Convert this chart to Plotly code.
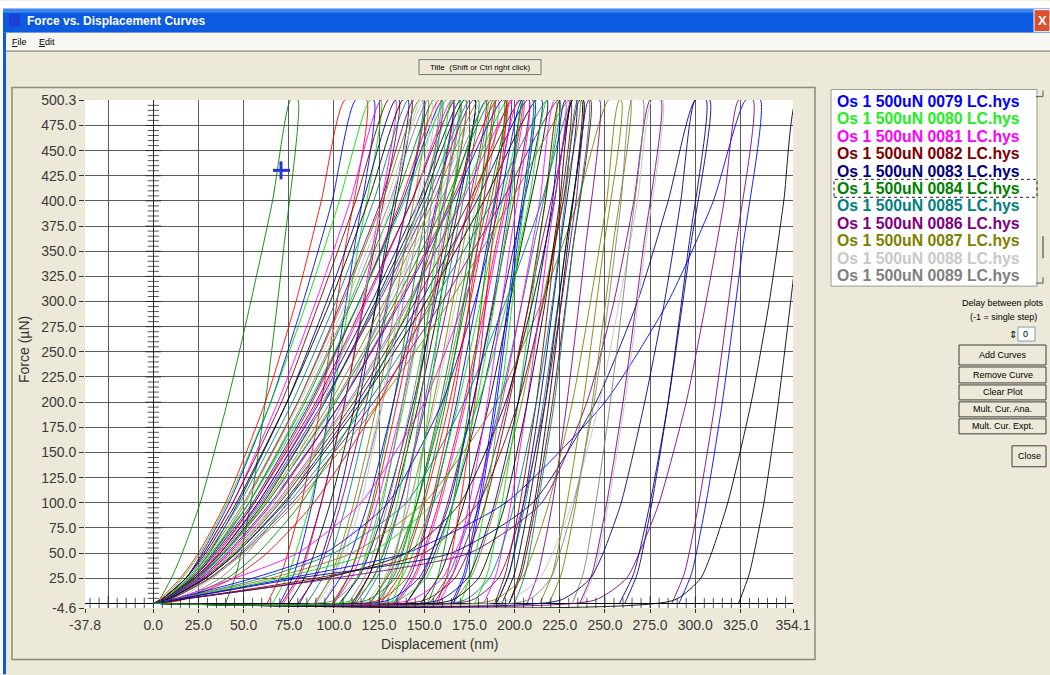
import plotly.graph_objects as go

# ---------------- data ----------------
LOAD_F = [0, 3, 25, 50, 100, 200, 300, 400, 500.3]
UNLOAD_F = [500.3, 350, 200, 100, 30, 0]

LOAD_X = [
    [0, 3, 10, 16, 26, 41, 54, 66, 76],
    [0, 3, 15, 25, 40, 62, 79, 93, 106],
    [0, 4, 18, 27, 42, 65, 83, 99, 112],
    [0, 4, 16, 26, 41, 65, 85, 103, 120],
    [0, 4, 18, 28, 44, 69, 90, 109, 126],
    [0, 4, 18, 28, 44, 71, 92, 112, 130],
    [0, 5, 20, 31, 47, 74, 96, 116, 134],
    [0, 4, 18, 29, 46, 74, 98, 119, 138],
    [0, 5, 19, 30, 48, 77, 101, 122, 141],
    [0, 5, 21, 33, 51, 80, 104, 126, 144],
    [0, 5, 20, 31, 50, 80, 105, 127, 147],
    [0, 5, 20, 32, 51, 81, 107, 129, 150],
    [0, 5, 22, 34, 53, 83, 109, 131, 152],
    [0, 5, 21, 33, 53, 84, 110, 134, 155],
    [0, 6, 23, 36, 56, 88, 114, 137, 158],
    [0, 5, 22, 34, 55, 87, 114, 138, 160],
    [0, 5, 20, 32, 53, 86, 114, 139, 162],
    [0, 6, 24, 37, 58, 91, 118, 143, 165],
    [0, 5, 22, 35, 56, 90, 117, 143, 167],
    [0, 6, 23, 37, 58, 92, 121, 147, 170],
    [0, 6, 25, 39, 61, 95, 123, 149, 172],
    [0, 6, 24, 38, 60, 95, 124, 151, 175],
    [0, 6, 23, 37, 59, 94, 125, 153, 177],
    [0, 6, 24, 39, 62, 98, 128, 155, 180],
    [0, 7, 27, 42, 66, 101, 130, 157, 182],
    [0, 6, 25, 40, 63, 100, 132, 159, 185],
    [0, 6, 24, 39, 63, 101, 134, 162, 187],
    [0, 7, 27, 42, 66, 104, 136, 165, 190],
    [0, 6, 26, 41, 65, 104, 137, 166, 193],
    [0, 7, 28, 44, 69, 109, 142, 170, 196],
    [0, 7, 27, 43, 68, 108, 141, 171, 199],
    [0, 7, 28, 45, 70, 111, 145, 175, 203],
    [0, 7, 29, 46, 72, 113, 148, 179, 207],
    [0, 7, 29, 46, 73, 115, 151, 183, 212],
    [0, 8, 31, 48, 75, 119, 155, 188, 218],
    [0, 8, 31, 49, 77, 122, 160, 193, 224],
    [0, 8, 32, 50, 79, 125, 164, 198, 230],
    [0, 11, 33, 47, 66, 94, 115, 132, 148],
    [0, 13, 37, 52, 74, 105, 129, 148, 166],
    [0, 14, 41, 58, 82, 116, 143, 164, 184],
    [0, 15, 44, 63, 89, 125, 153, 177, 198],
    [0, 8, 55, 95, 130, 160, 178, 192, 204],
    [0, 10, 70, 120, 155, 180, 196, 208, 218],
    [0, 9, 45, 80, 115, 150, 172, 189, 202],
    [0, 12, 90, 150, 180, 202, 216, 227, 236],
    [0, 10, 80, 165, 210, 245, 268, 285, 300],
    [0, 12, 95, 140, 170, 195, 210, 222, 232],
    [0, 9, 60, 100, 140, 172, 195, 215, 232],
    [0, 11, 100, 175, 215, 240, 255, 266, 275],
    [0, 9, 65, 110, 150, 190, 215, 235, 252],
    [0, 10, 75, 140, 195, 250, 285, 310, 328],
    [0, 100, 113, 119, 127, 138, 147, 154, 160],
    [0, 118, 134, 140, 149, 162, 172, 181, 188],
    [0, 125, 140, 146, 154, 166, 175, 183, 190],
    [0, 130, 147, 154, 164, 177, 188, 197, 205],
    [0, 135, 151, 157, 166, 179, 189, 198, 205],
    [0, 142, 160, 167, 178, 193, 204, 214, 222],
    [0, 150, 167, 174, 184, 197, 208, 217, 225],
    [0, 158, 174, 180, 189, 202, 212, 221, 228],
    [0, 165, 180, 186, 195, 207, 217, 225, 232],
    [0, 172, 186, 192, 200, 212, 221, 228, 235],
    [0, 176, 191, 197, 205, 217, 226, 234, 241],
    [0, 188, 204, 210, 219, 232, 242, 251, 258],
    [0, 196, 214, 221, 232, 247, 258, 268, 276],
    [0, 207, 220, 225, 233, 244, 252, 259, 265],
    [0, 225, 242, 249, 259, 272, 283, 292, 300],
    [0, 244, 262, 269, 280, 295, 306, 316, 324],
    [0, 288, 303, 309, 318, 331, 341, 349, 356],
    [0, 110, 122, 127, 135, 145, 153, 159, 165],
]

UNLOAD_X = [
    [80, 72, 62, 54, 46, 40],
    [118, 106, 93, 82, 71, 63],
    [122, 111, 98, 88, 78, 70],
    [126, 113, 99, 87, 75, 66],
    [134, 121, 106, 93, 82, 72],
    [136, 122, 106, 93, 81, 71],
    [141, 128, 114, 102, 90, 81],
    [143, 129, 112, 98, 85, 75],
    [149, 135, 120, 107, 95, 85],
    [150, 135, 118, 104, 91, 80],
    [152, 139, 124, 111, 99, 90],
    [156, 142, 126, 113, 101, 91],
    [159, 144, 127, 113, 100, 89],
    [160, 147, 133, 121, 109, 100],
    [166, 152, 135, 122, 109, 99],
    [166, 151, 133, 119, 105, 94],
    [169, 155, 139, 126, 114, 104],
    [170, 155, 138, 124, 111, 100],
    [173, 160, 145, 132, 120, 111],
    [178, 162, 144, 129, 115, 103],
    [178, 164, 147, 133, 120, 110],
    [180, 166, 150, 137, 125, 115],
    [184, 169, 151, 137, 123, 112],
    [185, 171, 155, 142, 130, 120],
    [188, 173, 156, 142, 129, 118],
    [191, 177, 160, 146, 133, 123],
    [195, 179, 161, 146, 131, 120],
    [196, 181, 164, 150, 137, 126],
    [198, 184, 168, 155, 143, 133],
    [203, 187, 169, 154, 139, 128],
    [205, 190, 173, 159, 146, 135],
    [208, 194, 177, 163, 150, 140],
    [215, 199, 181, 166, 151, 140],
    [218, 203, 186, 172, 159, 148],
    [225, 210, 192, 178, 164, 153],
    [230, 214, 196, 181, 166, 155],
    [236, 221, 204, 190, 177, 166],
    [154, 141, 127, 115, 103, 94],
    [173, 159, 143, 130, 118, 108],
    [189, 175, 159, 146, 134, 124],
    [204, 189, 172, 158, 145, 134],
    [210, 200, 189, 180, 172, 165],
    [223, 213, 202, 193, 185, 178],
    [208, 197, 185, 175, 166, 158],
    [242, 232, 221, 212, 204, 197],
    [308, 297, 285, 275, 266, 258],
    [237, 229, 219, 211, 203, 197],
    [238, 228, 216, 206, 197, 190],
    [281, 271, 260, 251, 243, 236],
    [259, 249, 238, 229, 221, 214],
    [336, 326, 315, 306, 298, 291],
    [166, 158, 148, 140, 132, 126],
    [194, 185, 175, 166, 158, 152],
    [195, 187, 178, 170, 163, 157],
    [211, 201, 190, 181, 173, 166],
    [210, 202, 192, 184, 176, 170],
    [228, 218, 207, 198, 190, 183],
    [231, 222, 212, 203, 195, 189],
    [234, 225, 214, 205, 197, 190],
    [238, 228, 217, 208, 200, 193],
    [241, 232, 222, 213, 206, 200],
    [247, 239, 229, 221, 213, 207],
    [264, 254, 243, 234, 226, 219],
    [282, 272, 261, 252, 244, 237],
    [271, 263, 253, 245, 238, 232],
    [306, 296, 285, 276, 268, 261],
    [332, 322, 311, 302, 294, 287],
    [364, 356, 346, 338, 330, 324],
    [170, 162, 153, 145, 138, 132],
]

COLOR_CYCLE = ["#008000", "#FF0000", "#0000FF", "#00E000", "#FF00FF", "#800000",
               "#000080", "#000000", "#008080", "#800080", "#808000", "#C0C0C0", "#808080"]
COLOR_OVERRIDE = {50: "#0000FF", 65: "#000080", 66: "#800080", 67: "#000000"}

X_TICKS = [-37.8, 0, 25, 50, 75, 100, 125, 150, 175, 200, 225, 250, 275, 300, 325, 354.1]
X_TICK_TEXT = ["-37.8", "0.0", "25.0", "50.0", "75.0", "100.0", "125.0", "150.0", "175.0",
               "200.0", "225.0", "250.0", "275.0", "300.0", "325.0", "354.1"]
X_GRID = [-25, 25, 50, 75, 100, 125, 150, 175, 200, 225, 250, 275, 300, 325]
Y_TICKS = [-4.6, 25, 50, 75, 100, 125, 150, 175, 200, 225, 250, 275, 300, 325, 350, 375,
           400, 425, 450, 475, 500.3]
Y_TICK_TEXT = ["-4.6", "25.0", "50.0", "75.0", "100.0", "125.0", "150.0", "175.0", "200.0",
               "225.0", "250.0", "275.0", "300.0", "325.0", "350.0", "375.0", "400.0",
               "425.0", "450.0", "475.0", "500.3"]
Y_GRID = [25, 50, 75, 100, 125, 150, 175, 200, 225, 250, 275, 300, 325, 350, 375, 400,
          425, 450, 475]

LEGEND_FILES = ["Os 1 500uN 0079 LC.hys", "Os 1 500uN 0080 LC.hys", "Os 1 500uN 0081 LC.hys",
                "Os 1 500uN 0082 LC.hys", "Os 1 500uN 0083 LC.hys", "Os 1 500uN 0084 LC.hys",
                "Os 1 500uN 0085 LC.hys", "Os 1 500uN 0086 LC.hys", "Os 1 500uN 0087 LC.hys",
                "Os 1 500uN 0088 LC.hys", "Os 1 500uN 0089 LC.hys"]
LEGEND_COLORS = ["#0000FF", "#22EE22", "#FF00FF", "#800000", "#000080", "#008000",
                 "#008080", "#800080", "#808000", "#C8C8C8", "#808080"]
BUTTONS = ["Add Curves", "Remove Curve", "Clear Plot", "Mult. Cur. Ana.", "Mult. Cur. Expt."]

# ---------------- figure ----------------
W, H = 1050, 675
L, R, T, B = 85, 793, 99.5, 608.5
FONT = "Arial, Liberation Sans, sans-serif"


def px(x):
    return (x - L) / (R - L)


def py(y):
    return (B - y) / (B - T)


fig = go.Figure()

for i, (lx, ux) in enumerate(zip(LOAD_X, UNLOAD_X)):
    col = COLOR_OVERRIDE.get(i, COLOR_CYCLE[i % len(COLOR_CYCLE)])
    fig.add_trace(go.Scatter(
        x=lx + ux, y=LOAD_F + UNLOAD_F, mode="lines", opacity=0.88,
        line=dict(color=col, width=1, shape="spline", smoothing=0.6),
        hoverinfo="skip", showlegend=False))

# axis cross tick marks along the zero lines
xt = [v for v in range(-35, 355, 5) if v != 0]
fig.add_trace(go.Scatter(x=xt, y=[0] * len(xt), mode="markers", showlegend=False,
                         hoverinfo="skip",
                         marker=dict(symbol="line-ns", size=[10 if v % 25 == 0 else 8 for v in xt],
                                     line=dict(width=1, color="#111111"), color="#111111")))
yt = list(range(5, 500, 5))
fig.add_trace(go.Scatter(x=[0] * len(yt), y=yt, mode="markers", showlegend=False,
                         hoverinfo="skip",
                         marker=dict(symbol="line-ew", size=[11 if v % 25 == 0 else 8 for v in yt],
                                     line=dict(width=1, color="#111111"), color="#111111")))

shapes = []
annotations = []


def rect(x0, y0, x1, y1, fill=None, line=None, lw=1, dash=None):
    d = dict(type="rect", xref="paper", yref="paper", x0=px(x0), x1=px(x1), y0=py(y1), y1=py(y0),
             fillcolor=fill if fill else "rgba(0,0,0,0)",
             line=dict(color=line if line else "rgba(0,0,0,0)", width=lw if line else 0))
    if dash:
        d["line"]["dash"] = dash
    shapes.append(d)


def hline(x0, x1, y, color, lw=1):
    shapes.append(dict(type="line", xref="paper", yref="paper", x0=px(x0), x1=px(x1),
                       y0=py(y), y1=py(y), line=dict(color=color, width=lw)))


def vline(x, y0, y1, color, lw=1):
    shapes.append(dict(type="line", xref="paper", yref="paper", x0=px(x), x1=px(x),
                       y0=py(y0), y1=py(y1), line=dict(color=color, width=lw)))


def text(x, y, s, size=9, color="#000000", anchor="center", bold=False, angle=0, family=FONT):
    annotations.append(dict(xref="paper", yref="paper", x=px(x), y=py(y), text=s,
                            showarrow=False, xanchor=anchor, yanchor="middle", textangle=angle,
                            font=dict(size=size, color=color, family=family,
                                      weight="bold" if bold else "normal")))


# window chrome
rect(0, 0, W, 8, fill="#FFFFFF")
rect(3, 8, W, 32, fill="#0B5AE0")
rect(3, 8, W, 12, fill="#3C86F0")
rect(9, 13, 20, 26, fill="#1C3FD6")
rect(1034, 9, W, 31, fill="#D9512C", line="#FFFFFF", lw=1)
text(1042, 20, "X", size=13, color="#FFFFFF", bold=True)
text(25, 20, "Force vs. Displacement Curves", size=12, color="#FFFFFF", anchor="left", bold=True)
rect(0, 8, 3, H, fill="#FFFFFF")
rect(3, 32, 6, H, fill="#0B5AE0")
rect(6, 32, W, 50, fill="#F7F6F1")
hline(6, W, 50.5, "#8E8C82", 1.2)
text(10, 41, "<u>F</u>ile", size=9, anchor="left")
text(37, 41, "<u>E</u>dit", size=9, anchor="left")

# title button
rect(419, 59, 541, 74, fill="#ECE9D8", line="#7A786E", lw=1)
text(480, 66.5, "Title  (Shift or Ctrl right click)", size=8)

# chart panel border
rect(12, 87, 815, 660, line="#8C8A7E", lw=1.5)

# list box
rect(831, 89, 1037, 286, fill="#FFFFFF", line="#9A9A90", lw=1)
hline(1036, 1043, 96, "#6E6C64", 1.2)
vline(1043, 90, 96, "#6E6C64", 1.2)
vline(1043, 236, 258, "#6E6C64", 1.5)
hline(1036, 1043, 283, "#6E6C64", 1.2)
vline(1043, 277, 283, "#6E6C64", 1.2)
for k, (name, col) in enumerate(zip(LEGEND_FILES, LEGEND_COLORS)):
    text(835, 100.7 + 17.5 * k, name, size=15.8, color=col, anchor="left", bold=True)
rect(834, 179, 1037, 197, line="#222222", lw=1, dash="dot")

# controls
text(1003, 303, "Delay between plots", size=9)
text(1003, 317, "(-1 = single step)", size=9)
rect(1018, 327, 1035, 341, fill="#FFFFFF", line="#7F9DB9", lw=1)
text(1021, 334, "0", size=9, anchor="left")
text(1013, 334, "\u21d5", size=10)
btn_y = [(345, 365), (367, 383), (385, 400), (402, 417), (419, 434)]
for label, (y0, y1) in zip(BUTTONS, btn_y):
    rect(959, y0, 1046, y1, fill="#ECE9D8", line="#3C3C3C", lw=1)
    text(1002.5, (y0 + y1) / 2, label, size=9)
rect(1012, 446, 1046, 467, fill="#ECE9D8", line="#3C3C3C", lw=1)
text(1029, 456.5, "Close", size=9)

# crosshair cursor
hline(273, 290, 170, "#2436D8", 3)
vline(281, 161, 179, "#2436D8", 3)

# axis titles
text(24, 350, "Force (\u00b5N)", size=14, color="#333333", angle=-90)
text(440, 645, "Displacement (nm)", size=14, color="#333333")

axis_font = dict(family=FONT, size=14, color="#3a3a3a")
fig.update_layout(
    width=W, height=H, autosize=False,
    margin=dict(l=L, r=W - R, t=T, b=H - B, pad=0),
    paper_bgcolor="#ECE9D8", plot_bgcolor="#FFFFFF",
    showlegend=False,
    shapes=shapes, annotations=annotations,
    xaxis=dict(range=[-37.8, 354.1], tickmode="array", tickvals=X_TICKS, ticktext=X_TICK_TEXT,
               showgrid=False, ticks="outside", ticklen=4, tickcolor="#333333",
               tickfont=axis_font, zeroline=True, zerolinecolor="#333333", zerolinewidth=1.3,
               showline=False, fixedrange=True,
               minor=dict(tickmode="array", tickvals=X_GRID, showgrid=True,
                          gridcolor="#5a5a5a", gridwidth=1, ticks="")),
    yaxis=dict(range=[-4.6, 500.3], tickmode="array", tickvals=Y_TICKS, ticktext=Y_TICK_TEXT,
               showgrid=False, ticks="outside", ticklen=5, tickcolor="#333333",
               tickfont=axis_font, zeroline=True, zerolinecolor="#000000", zerolinewidth=1.3,
               showline=False, fixedrange=True,
               minor=dict(tickmode="array", tickvals=Y_GRID, showgrid=True,
                          gridcolor="#5a5a5a", gridwidth=1, ticks="")),
)

fig.write_html("out.html", config={"displayModeBar": False})
